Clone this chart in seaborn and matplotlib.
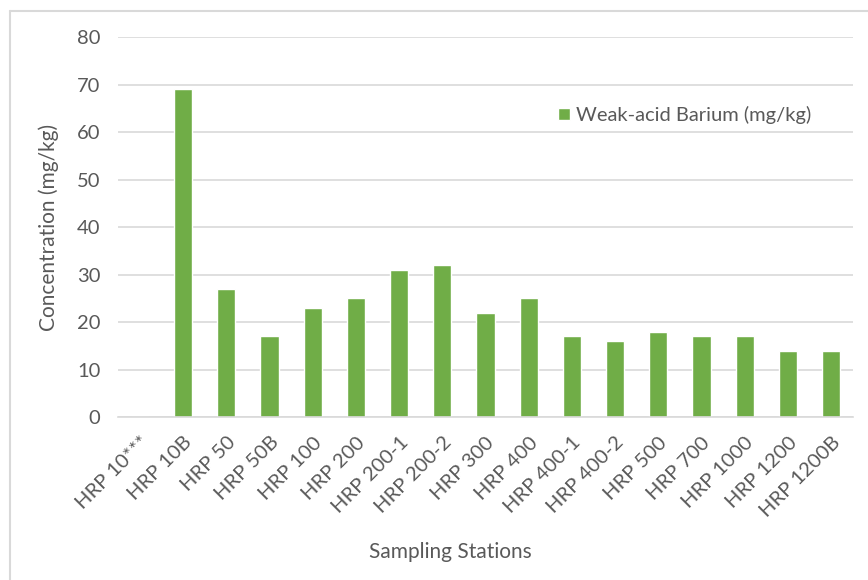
import matplotlib
matplotlib.use("Agg")
import matplotlib.pyplot as plt
import seaborn as sns
import pandas as pd
import numpy as np
from matplotlib.lines import Line2D

stations = ["HRP 10***", "HRP 10B", "HRP 50", "HRP 50B", "HRP 100", "HRP 200",
            "HRP 200-1", "HRP 200-2", "HRP 300", "HRP 400", "HRP 400-1", "HRP 400-2",
            "HRP 500", "HRP 700", "HRP 1000", "HRP 1200", "HRP 1200B"]
barium = [0, 69, 27, 17, 23, 25, 31, 32, 22, 25, 17, 16, 18, 17, 17, 14, 14]
series_name = "Weak-acid Barium (mg/kg)"

df = pd.DataFrame({"Station": stations, "Value": barium, "Series": series_name})

sns.set_theme(style="white")
plt.rcParams['font.family'] = ['Lato', 'DejaVu Sans']
txt = "#595959"
green = "#70AD47"
grid = "#D9D9D9"

fig = plt.figure(figsize=(8.68, 5.80), dpi=100)
ax = fig.add_axes([0.1364, 0.281, 0.8459, 0.655])

sns.barplot(data=df, x="Station", y="Value", hue="Series", palette=[green],
            width=0.42, ax=ax, saturation=1, legend=True)

ax.set_ylim(0, 80)
ax.set_yticks(range(0, 81, 10))
ax.set_xlim(-0.5, len(stations) - 0.5)
ax.yaxis.grid(True, color=grid, linewidth=1.2)
ax.set_axisbelow(True)
for s in ["top", "right", "left"]:
    ax.spines[s].set_visible(False)
ax.spines["bottom"].set_color(grid)
ax.spines["bottom"].set_linewidth(1.2)
ax.tick_params(axis="both", length=0, colors=txt, labelsize=14.5)
ax.tick_params(axis="y", pad=13)
ax.tick_params(axis="x", pad=12)
plt.setp(ax.get_xticklabels(), rotation=45, ha="right", rotation_mode="anchor")

ax.set_ylabel("Concentration (mg/kg)", color=txt, fontsize=15, labelpad=13)
ax.set_xlabel("Sampling Stations", color=txt, fontsize=15)
ax.xaxis.set_label_coords(0.452, -0.33)

leg = ax.legend(loc="center left", bbox_to_anchor=(0.574, 0.795), frameon=False,
                fontsize=14.5, handlelength=0.6, handleheight=0.6, handletextpad=0.3)
for t in leg.get_texts():
    t.set_color(txt)

fig.add_artist(Line2D([10/868, 1], [1 - 11/580, 1 - 11/580], color=grid, lw=1.5,
                      transform=fig.transFigure))
fig.add_artist(Line2D([10/868, 10/868], [0, 1 - 11/580], color=grid, lw=1.5,
                      transform=fig.transFigure))

fig.savefig("out.png", dpi=100)
